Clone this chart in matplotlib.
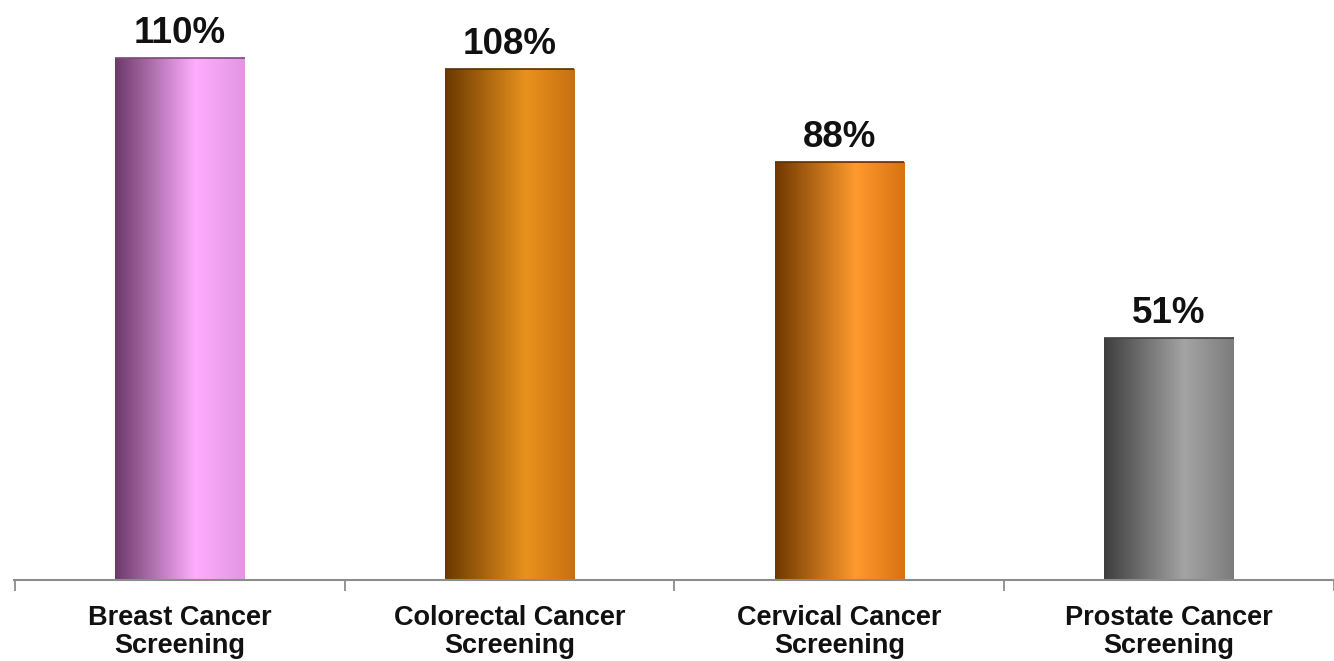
import matplotlib
matplotlib.use("Agg")
import matplotlib.pyplot as plt
import numpy as np
from matplotlib.colors import LinearSegmentedColormap

categories = ["Breast Cancer\nScreening", "Colorectal Cancer\nScreening",
              "Cervical Cancer\nScreening", "Prostate Cancer\nScreening"]
values = [110, 107.5, 88, 51]
value_labels = ["110%", "108%", "88%", "51%"]
# gradient stops per bar: (left dark, peak light, right edge)
bar_gradients = [
    ("#6a3a68", "#ffadff", "#e296e2"),
    ("#6a3800", "#e8921e", "#c87010"),
    ("#703800", "#ff9a2e", "#d87212"),
    ("#3e3e3e", "#a4a4a4", "#7c7c7c"),
]
edge_colors = ["#7a4a78", "#5a3000", "#5a3000", "#404040"]

W, H = 1334, 661
fig = plt.figure(figsize=(W / 100, H / 100), dpi=100)
ax = fig.add_axes([14 / W, (H - 580) / H, 1 - 14 / W, 570 / H])

x = np.arange(len(values))
width = 0.393
bars = ax.bar(x, values, width=width, color="none", edgecolor="none", zorder=2)

grad = np.linspace(0, 1, 256).reshape(1, -1)
for b, (c0, c1, c2), ec in zip(bars, bar_gradients, edge_colors):
    cmap = LinearSegmentedColormap.from_list("g", [(0, c0), (0.62, c1), (1.0, c2)])
    x0, y0 = b.get_x(), b.get_y()
    w, h = b.get_width(), b.get_height()
    im = ax.imshow(grad, cmap=cmap, aspect="auto", extent=[x0, x0 + w, y0, y0 + h],
                   zorder=1, interpolation="bilinear")
    im.set_clip_path(b)
    ax.plot([x0, x0 + w], [y0 + h, y0 + h], color=ec, lw=1.2, zorder=3,
            solid_capstyle="butt")

for xi, v, lab in zip(x, values, value_labels):
    ax.annotate(lab, (xi, v), xytext=(0, 5), textcoords="offset points",
                ha="center", va="bottom", fontsize=26.5, fontweight="bold",
                family="Liberation Sans", color="#111111")

ax.set_xlim(-0.503, 3.473)
ax.set_ylim(0, 120)

for s in ["top", "right", "left"]:
    ax.spines[s].set_visible(False)
ax.spines["bottom"].set_color("#8c8c8c")
ax.spines["bottom"].set_linewidth(1.5)
ax.set_yticks([])

ax.set_xticks(np.arange(len(values) + 1) - 0.5)
ax.set_xticklabels([])
ax.tick_params(axis="x", which="major", length=8, width=1.3, color="#8c8c8c")
ax.set_xticks(x, minor=True)
ax.set_xticklabels(categories, minor=True, fontsize=19.5, fontweight="bold",
                   family="Liberation Sans", color="#111111", linespacing=1.08)
ax.tick_params(axis="x", which="minor", length=0, pad=18)

fig.savefig("out.png", dpi=100)
